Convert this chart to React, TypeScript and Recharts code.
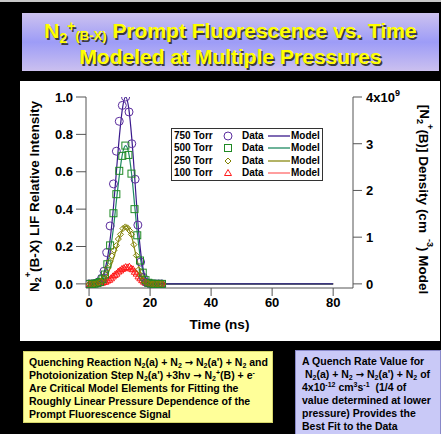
import { ComposedChart, Line, Scatter, XAxis, YAxis, Legend, Label } from "recharts";

// ─── Data ───────────────────────────────────────────────────────────────────
// model curves (ns → relative intensity)
const modelTime = [0, 1, 2, 3, 4, 5, 6, 7, 8, 9, 10, 11, 12, 13, 14, 15, 16, 17, 18, 19, 20, 21, 22, 80];
const model750 = [0, 0.001, 0.004, 0.011, 0.03, 0.066, 0.135, 0.25, 0.41, 0.61, 0.8, 0.945, 1.0, 0.94, 0.78, 0.56, 0.33, 0.16, 0.06, 0.018, 0.004, 0.001, 0, 0];
const model500 = [0, 0.001, 0.003, 0.008, 0.022, 0.05, 0.1, 0.185, 0.3, 0.45, 0.59, 0.7, 0.74, 0.7, 0.58, 0.41, 0.245, 0.12, 0.045, 0.013, 0.003, 0.001, 0, 0];
const model250 = [0, 0, 0.001, 0.004, 0.01, 0.022, 0.048, 0.088, 0.135, 0.19, 0.25, 0.29, 0.31, 0.295, 0.25, 0.18, 0.11, 0.055, 0.02, 0.006, 0.001, 0, 0, 0];
const model100 = [0, 0, 0, 0.002, 0.005, 0.01, 0.018, 0.03, 0.045, 0.06, 0.075, 0.085, 0.09, 0.088, 0.078, 0.06, 0.04, 0.022, 0.01, 0.004, 0.001, 0, 0, 0];

// measured points
const time750 = [0, 1, 2, 3, 4.1, 4.9, 5.8, 6.9, 8.0, 8.95, 9.9, 10.9, 12.0, 13.1, 14.0, 15.1, 16.0, 16.9, 17.8, 18.8, 19.8, 20.8, 21.8, 22.8, 23.8];
const data750 = [0, 0, 0.002, 0.01, 0.03, 0.068, 0.167, 0.31, 0.535, 0.71, 0.87, 0.955, 1.0, 0.92, 0.75, 0.56, 0.315, 0.117, 0.035, 0.008, 0.002, 0, 0, 0, 0];

const time500 = [0, 0.9, 1.8, 2.7, 3.6, 4.4, 5.2, 6.0, 6.9, 8.0, 8.95, 9.9, 10.9, 11.9, 12.9, 13.9, 14.9, 15.8, 16.7, 17.6, 18.5, 19.4, 20.3, 21.2, 22.1, 23.0, 23.9];
const data500 = [0, 0, 0.001, 0.004, 0.01, 0.025, 0.05, 0.105, 0.206, 0.378, 0.48, 0.605, 0.685, 0.74, 0.69, 0.59, 0.4, 0.26, 0.125, 0.06, 0.02, 0.006, 0.002, 0, 0, 0, 0];

const time250 = [0, 0.8, 1.6, 2.4, 3.2, 4.0, 4.7, 5.4, 6.1, 6.8, 7.5, 8.2, 8.95, 9.6, 10.3, 11.1, 11.9, 12.6, 13.3, 13.9, 14.7, 15.5, 16.2, 17.0, 17.8, 18.6, 19.4, 20.2, 21.0, 21.8, 22.6, 23.4, 24.2];
const data250 = [0, 0, 0, 0.002, 0.006, 0.014, 0.028, 0.05, 0.085, 0.12, 0.15, 0.18, 0.205, 0.24, 0.265, 0.296, 0.305, 0.3, 0.285, 0.265, 0.21, 0.152, 0.075, 0.045, 0.02, 0.008, 0.003, 0, 0, 0, 0, 0, 0];

const time100 = [0, 0.6, 1.2, 1.8, 2.4, 3.0, 3.6, 4.2, 4.8, 5.4, 6.0, 6.6, 7.2, 7.8, 8.4, 9.0, 9.6, 10.2, 10.8, 11.4, 12.0, 12.6, 13.2, 13.8, 14.4, 15.0, 15.6, 16.2, 16.8, 17.4, 18.0, 18.6, 19.2, 19.8, 20.4, 21.0, 21.6, 22.2, 22.8, 23.4, 24.0];
const data100 = [0, 0, 0, 0, 0.001, 0.002, 0.004, 0.006, 0.01, 0.012, 0.018, 0.022, 0.03, 0.04, 0.048, 0.055, 0.066, 0.072, 0.08, 0.084, 0.09, 0.088, 0.092, 0.082, 0.078, 0.065, 0.055, 0.04, 0.03, 0.02, 0.012, 0.006, 0.003, 0.001, 0, 0, 0, 0, 0, 0, 0];

const xTicks = [0, 20, 40, 60, 80];
const leftTicks = [0, 0.2, 0.4, 0.6, 0.8, 1.0];
const rightTicks = [0, 1, 2, 3, 4];
const pressures = ["750 Torr", "500 Torr", "250 Torr", "100 Torr"];

// ─── Palette ────────────────────────────────────────────────────────────────
const FONT = "'Liberation Sans', Arial, Helvetica, sans-serif";
const C750 = "#5b2d9e";
const C750_LINE = "#3a1a8c";
const C500 = "#1f8a24";
const C500_LINE = "#1f8a62";
const C250 = "#808000";
const C250_LINE = "#8a8a14";
const C100 = "#ff1a1a";
const C100_LINE = "#ff6a6a";
const AXIS = "#555";

const rows = (ts: number[], vs: number[]) => ts.map((t, i) => ({ t, v: vs[i] }));

// ─── Markers ────────────────────────────────────────────────────────────────
const Circle = ({ cx, cy }: any) => <circle cx={cx} cy={cy} r={4} fill="none" stroke={C750} strokeWidth={1} />;
const Square = ({ cx, cy }: any) => (
  <rect x={cx - 3.5} y={cy - 3.5} width={7} height={7} fill="none" stroke={C500} strokeWidth={1} />
);
const Diamond = ({ cx, cy }: any) => (
  <polygon points={`${cx},${cy - 3} ${cx + 3},${cy} ${cx},${cy + 3} ${cx - 3},${cy}`} fill="none" stroke={C250} strokeWidth={1} />
);
const Triangle = ({ cx, cy }: any) => (
  <polygon points={`${cx},${cy - 3.5} ${cx + 3.5},${cy + 2.5} ${cx - 3.5},${cy + 2.5}`} fill="none" stroke={C100} strokeWidth={1} />
);

const legendRows = [
  { label: pressures[0], Mark: Circle, line: C750_LINE },
  { label: pressures[1], Mark: Square, line: C500_LINE },
  { label: pressures[2], Mark: Diamond, line: C250_LINE },
  { label: pressures[3], Mark: Triangle, line: C100_LINE },
];

// ─── Axis pieces ────────────────────────────────────────────────────────────
const tickStyle = { fontFamily: FONT, fontSize: 13, fontWeight: "bold", fill: "#000" };

function RightTick({ x, y, payload }: any) {
  return (
    <text x={x} y={y} dy={5} textAnchor="start" style={tickStyle}>
      {payload.value === 4 ? (
        <>
          4x10<tspan dy={-6} fontSize={9}>9</tspan>
        </>
      ) : (
        payload.value
      )}
    </text>
  );
}

function LeftTitle({ viewBox }: any) {
  const cx = viewBox.x - 2;
  const cy = viewBox.y + viewBox.height / 2 + 4;
  return (
    <text
      x={cx}
      y={cy}
      transform={`rotate(-90 ${cx} ${cy})`}
      textAnchor="middle"
      dominantBaseline="central"
      style={{ fontFamily: FONT, fontSize: 13.5, fontWeight: "bold", fill: "#000" }}
    >
      N<tspan fontSize={9} dy={4}>2</tspan>
      <tspan fontSize={9} dy={-10}>+</tspan>
      <tspan dy={6}>(B-X) LIF Relative Intensity</tspan>
    </text>
  );
}

function RightTitle({ viewBox }: any) {
  const cx = viewBox.x + 71;
  const cy = viewBox.y + viewBox.height / 2 + 7;
  return (
    <text
      x={cx}
      y={cy}
      transform={`rotate(90 ${cx} ${cy})`}
      textAnchor="middle"
      dominantBaseline="central"
      style={{ fontFamily: FONT, fontSize: 13.5, fontWeight: "bold", fill: "#000" }}
    >
      [N<tspan fontSize={9} dy={4}>2</tspan>
      <tspan fontSize={9} dy={-10}>+</tspan>
      <tspan dy={6}>(B)] Density (cm</tspan>
      <tspan fontSize={9} dx={6} dy={-6}>-3</tspan>
      <tspan dy={6}>) Model</tspan>
    </text>
  );
}

function BottomTitle({ viewBox }: any) {
  return (
    <text
      x={viewBox.x + viewBox.width / 2}
      y={viewBox.y + 36}
      textAnchor="middle"
      dominantBaseline="central"
      style={{ fontFamily: FONT, fontSize: 13.5, fontWeight: "bold", fill: "#000" }}
    >
      Time (ns)
    </text>
  );
}

function LegendBox() {
  const txt = { position: "absolute" as const, fontFamily: FONT, fontSize: 10, fontWeight: "bold" as const, lineHeight: "12px", whiteSpace: "nowrap" as const };
  return (
    <div style={{ width: 152, height: 53, border: "1.5px solid #333", background: "#fff", boxSizing: "border-box", position: "relative" }}>
      {legendRows.map(({ label, Mark, line }, i) => (
        <div key={label} style={{ position: "absolute", left: 0, top: 1 + i * 12.4, width: 150, height: 12 }}>
          <span style={{ ...txt, left: 2 }}>{label}</span>
          <svg width={12} height={12} style={{ position: "absolute", left: 50 }}>
            <Mark cx={6} cy={6} />
          </svg>
          <span style={{ ...txt, left: 70 }}>Data</span>
          <svg width={22} height={12} style={{ position: "absolute", left: 96 }}>
            <line x1={0} y1={6} x2={22} y2={6} stroke={line} strokeWidth={1.3} />
          </svg>
          <span style={{ ...txt, left: 119 }}>Model</span>
        </div>
      ))}
    </div>
  );
}

// ─── Text helpers ───────────────────────────────────────────────────────────
const Sub = ({ children }: any) => (
  <span style={{ fontSize: 7, verticalAlign: "-2px", lineHeight: 0 }}>{children}</span>
);
const Sup = ({ children }: any) => (
  <span style={{ fontSize: 7, verticalAlign: "4px", lineHeight: 0 }}>{children}</span>
);
const Arrow = () => (
  <span style={{ fontFamily: "'DejaVu Sans', sans-serif", fontSize: 10, lineHeight: 0 }}>→</span>
);

const noteStyle = {
  position: "absolute" as const,
  fontFamily: FONT,
  fontSize: 10.5,
  fontWeight: "bold" as const,
  lineHeight: "13px",
  color: "#000",
  whiteSpace: "nowrap" as const,
  boxSizing: "border-box" as const,
  paddingTop: 4,
};

export default function App() {
  return (
    <div style={{ position: "relative", width: 441, height: 434, background: "#000", overflow: "hidden", borderTop: "2px solid #c8c8c8", boxSizing: "border-box" }}>
      <style>{"body{margin:0}"}</style>

      {/* ── Title ─────────────────────────────────────────────── */}
      <div
        style={{
          position: "absolute",
          left: 22,
          top: 11,
          width: 417,
          height: 58,
          background: "linear-gradient(to bottom, #cdc2ef 0%, #9d9cf7 50%, #cbc0ef 100%)",
          textAlign: "center",
          color: "#ffff00",
          fontFamily: FONT,
          fontWeight: "bold",
          fontSize: 21,
          lineHeight: "23px",
          textShadow: "1.5px 1.5px 0 #3c3c3c",
          paddingTop: 6,
          boxSizing: "border-box",
          whiteSpace: "nowrap",
        }}
      >
        <div>
          N<span style={{ fontSize: 14, position: "relative", top: 5 }}>2</span>
          <span style={{ fontSize: 14, position: "relative", top: -7 }}>+</span>
          <span style={{ fontSize: 13, position: "relative", top: 2 }}>(B-X)</span> Prompt Fluorescence vs. Time
        </div>
        <div>Modeled at Multiple Pressures</div>
      </div>

      {/* ── White chart panel ─────────────────────────────────── */}
      <div style={{ position: "absolute", left: 20, top: 79, width: 420, height: 260, background: "#fff" }} />

      <div style={{ position: "absolute", left: 0, top: -2 }}>
        <ComposedChart width={441} height={434} margin={{ top: 97, right: 38, bottom: 116, left: 36 }}>
          <XAxis
            dataKey="t"
            type="number"
            domain={[-1, 86.5]}
            ticks={xTicks}
            tick={tickStyle}
            tickSize={8}
            tickMargin={2}
            height={30}
            stroke={AXIS}
            allowDataOverflow
          >
            <Label content={BottomTitle} />
          </XAxis>
          <YAxis
            yAxisId="left"
            type="number"
            domain={[-0.022, 1.0]}
            ticks={leftTicks}
            tickFormatter={(v: number) => v.toFixed(1)}
            tick={tickStyle}
            tickSize={10}
            tickMargin={3}
            width={50}
            stroke={AXIS}
            allowDataOverflow
          >
            <Label content={LeftTitle} />
          </YAxis>
          <YAxis
            yAxisId="right"
            orientation="right"
            type="number"
            domain={[-0.088, 4]}
            ticks={rightTicks}
            tick={<RightTick />}
            tickSize={9}
            tickMargin={4}
            width={50}
            stroke={AXIS}
            allowDataOverflow
          >
            <Label content={RightTitle} />
          </YAxis>

          <Legend
            content={<LegendBox />}
            layout="horizontal"
            verticalAlign="middle"
            align="center"
            wrapperStyle={{ left: 171, top: 128, width: 152, height: 53 }}
          />

          {/* data */}
          <Scatter yAxisId="left" data={rows(time100, data100)} dataKey="v" shape={Triangle} isAnimationActive={false} />
          <Scatter yAxisId="left" data={rows(time750, data750)} dataKey="v" shape={Circle} isAnimationActive={false} />
          <Scatter yAxisId="left" data={rows(time500, data500)} dataKey="v" shape={Square} isAnimationActive={false} />
          <Scatter yAxisId="left" data={rows(time250, data250)} dataKey="v" shape={Diamond} isAnimationActive={false} />

          {/* model */}
          <Line yAxisId="left" data={rows(modelTime, model100)} dataKey="v" type="monotone" stroke={C100_LINE} strokeWidth={1.2} dot={false} isAnimationActive={false} />
          <Line yAxisId="left" data={rows(modelTime, model250)} dataKey="v" type="monotone" stroke={C250_LINE} strokeWidth={1.2} dot={false} isAnimationActive={false} />
          <Line yAxisId="left" data={rows(modelTime, model500)} dataKey="v" type="monotone" stroke={C500_LINE} strokeWidth={1.2} dot={false} isAnimationActive={false} />
          <Line yAxisId="left" data={rows(modelTime, model750)} dataKey="v" type="monotone" stroke={C750_LINE} strokeWidth={1.2} dot={false} isAnimationActive={false} />
        </ComposedChart>
      </div>

      {/* ── Notes ─────────────────────────────────────────────── */}
      <div style={{ ...noteStyle, left: 23, top: 349, width: 250, height: 72, background: "#ffff99", border: "1px solid #d6d66a", paddingLeft: 5 }}>
        <div>
          Quenching Reaction N<Sub>2</Sub>(a) + N<Sub>2</Sub> <Arrow /> N<Sub>2</Sub>(a') + N<Sub>2</Sub> and
        </div>
        <div>
          Photoionization Step N<Sub>2</Sub>(a') +3hν <Arrow /> N<Sub>2</Sub>
          <Sup>+</Sup>(B) + e<Sup>-</Sup>
        </div>
        <div>Are Critical Model Elements for Fitting the</div>
        <div>Roughly Linear Pressure Dependence of the</div>
        <div>Prompt Fluorescence Signal</div>
      </div>

      <div style={{ ...noteStyle, left: 295, top: 348, width: 146, height: 90, background: "#c9c9f7", border: "1px solid #8888c8", paddingLeft: 6 }}>
        <div>A Quench Rate Value for</div>
        <div>
          &nbsp;N<Sub>2</Sub>(a) + N<Sub>2</Sub> <Arrow /> N<Sub>2</Sub>(a') + N<Sub>2</Sub> of
        </div>
        <div>
          4x10<Sup>-12</Sup> cm<Sup>3</Sup>s<Sup>-1</Sup>&nbsp; (1/4 of
        </div>
        <div>value determined at lower</div>
        <div>pressure) Provides the</div>
        <div>Best Fit to the Data</div>
      </div>
    </div>
  );
}
